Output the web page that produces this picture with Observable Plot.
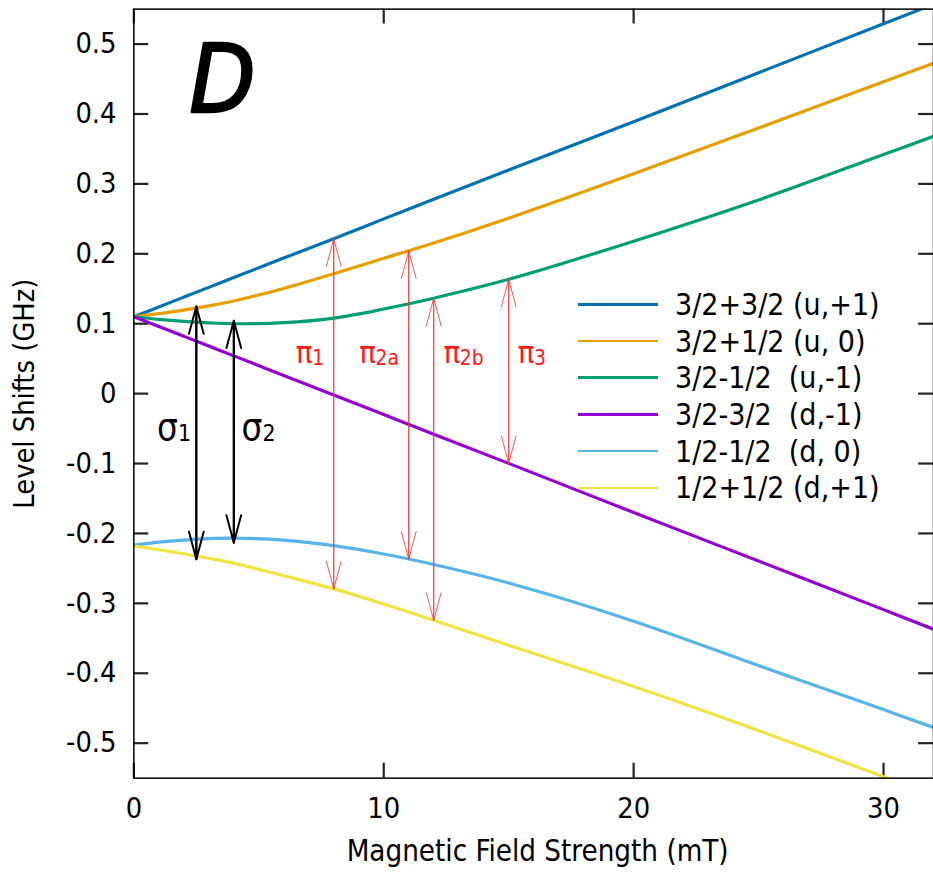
<!DOCTYPE html>
<html>
<head>
<meta charset="utf-8">
<script src="https://cdn.jsdelivr.net/npm/d3@7"></script>
<script src="https://cdn.jsdelivr.net/npm/@observablehq/plot@0.6"></script>
<style>
  html, body { margin: 0; padding: 0; overflow: hidden; background: white; }
  #wrap { position: relative; width: 933px; height: 878px; overflow: hidden; }
  #legend { position: absolute; left: 578px; top: 286px;
    font-family: "DejaVu Sans Condensed", "DejaVu Sans", sans-serif; font-size: 30px; color: black; }
  .row { display: flex; align-items: center; height: 36.7px; white-space: pre; }
  .sw { width: 80px; height: 2.5px; margin-right: 17px; }
</style>
</head>
<body>
<div id="wrap"><div id="legend"></div></div>
<script>
// ---- data ----
const xs = [0, 1, 2, 3, 4, 6, 8, 10, 12, 15, 20, 25, 30, 32];
const seriesNames = ["3/2+3/2 (u,+1)", "3/2+1/2 (u, 0)", "3/2-1/2  (u,-1)", "3/2-3/2  (d,-1)", "1/2-1/2  (d, 0)", "1/2+1/2 (d,+1)"];
const seriesColors = ["#0072B2", "#E69F00", "#009E73", "#9400D3", "#56B4E9", "#F0E442"];
const sUp1   = [0.110, 0.124, 0.138, 0.152, 0.166, 0.194, 0.2215, 0.250, 0.278, 0.320, 0.389, 0.459, 0.529, 0.557];
const sUp0   = [0.110, 0.1145, 0.1195, 0.1255, 0.1325, 0.1505, 0.1715, 0.1935, 0.2155, 0.251, 0.3145, 0.380, 0.446, 0.4725];
const sUpM1  = [0.110, 0.1062, 0.1033, 0.1012, 0.1000, 0.1015, 0.108, 0.121, 0.1365, 0.1635, 0.218, 0.277, 0.342, 0.368];
const sDnM1  = [0.110, 0.096, 0.082, 0.068, 0.054, 0.026, -0.002, -0.030, -0.058, -0.0998, -0.170, -0.2395, -0.309, -0.337];
const sDn0   = [-0.217, -0.2125, -0.2095, -0.2075, -0.2068, -0.2095, -0.2175, -0.2295, -0.2445, -0.271, -0.3255, -0.389, -0.452, -0.4775];
const sDnP1  = [-0.218, -0.2233, -0.229, -0.2355, -0.2425, -0.2605, -0.2793, -0.301, -0.3243, -0.360, -0.419, -0.482, -0.548, -0.574];
const seriesValues = [sUp1, sUp0, sUpM1, sDnM1, sDn0, sDnP1];

const xTicks = [0, 10, 20, 30];
const xTickLabels = ["0", "10", "20", "30"];
const yTicks = [-0.5, -0.4, -0.3, -0.2, -0.1, 0, 0.1, 0.2, 0.3, 0.4, 0.5];
const yTickLabels = ["-0.5", "-0.4", "-0.3", "-0.2", "-0.1", "0", "0.1", "0.2", "0.3", "0.4", "0.5"];
const xDomain = [0, 32];
const yDomain = [-0.55, 0.55];

// black sigma transitions
const sigmaX = [2.5, 4];
const sigmaTop = [0.1248, 0.1044];
const sigmaBot = [-0.2368, -0.2132];
const sigmaSub = ["1", "2"];
const sigmaLabelX = [0.93, 4.31];
const sigmaLabelY = [-0.0662, -0.0662];

// red pi transitions
const piX = [8, 11, 12, 15];
const piTop = [0.2215, 0.2041, 0.1365, 0.1635];
const piBot = [-0.2793, -0.2368, -0.3243, -0.0998];
const piSub = ["1", "2a", "2b", "3"];
const piLabelX = [6.48, 9.02, 12.39, 15.36];
const piLabelY = [0.0444, 0.0444, 0.0444, 0.0444];

const panelLabel = "D";
const xTitle = "Magnetic Field Strength (mT)";
const yTitle = "Level Shifts (GHz)";

// ---- build tables ----
const lineRows = [];
seriesNames.forEach((name, k) => xs.forEach((x, i) => lineRows.push({x, y: seriesValues[k][i], s: name})));
const sigmaRows = sigmaX.map((x, i) => ({x, top: sigmaTop[i], bot: sigmaBot[i]}));
const piRows = piX.map((x, i) => ({x, top: piTop[i], bot: piBot[i]}));
const sigmaLab = sigmaSub.map((s, i) => ({x: sigmaLabelX[i], y: sigmaLabelY[i], s}));
const piLab = piSub.map((s, i) => ({x: piLabelX[i], y: piLabelY[i], s}));

const FONT = '"DejaVu Sans Condensed", "DejaVu Sans", sans-serif';
const W = 941, H = 878, ML = 134.5, MR = 0, MT = 8.7, MB = 93.7;
const FW = W - ML - MR, FH = H - MT - MB, TL = 15;

const chart = Plot.plot({
  width: W,
  height: H,
  marginLeft: ML,
  marginRight: MR,
  marginTop: MT,
  marginBottom: MB,
  style: {fontFamily: FONT, fontSize: "29px", color: "black", background: "white"},
  x: {domain: xDomain},
  y: {domain: yDomain},
  color: {domain: seriesNames, range: seriesColors},
  marks: [
    // tick labels
    Plot.axisY({anchor: "left", ticks: yTicks, tickSize: 0, tickPadding: 17.5, tickFormat: d => yTickLabels[yTicks.indexOf(d)], label: null, fontSize: 29}),
    Plot.axisX({anchor: "bottom", ticks: xTicks, tickSize: 0, tickPadding: 20, tickFormat: d => xTickLabels[xTicks.indexOf(d)], label: null, fontSize: 29}),
    // inward ticks on all four sides
    Plot.tickY(yTicks, {y: d => d, insetRight: FW - TL, stroke: "#222222", strokeWidth: 2.2}),
    Plot.tickY(yTicks, {y: d => d, insetLeft: FW - TL, stroke: "#222222", strokeWidth: 2.2}),
    Plot.tickX(xTicks, {x: d => d, insetTop: FH - TL, stroke: "#222222", strokeWidth: 2.2}),
    Plot.tickX(xTicks, {x: d => d, insetBottom: FH - TL, stroke: "#222222", strokeWidth: 2.2}),
    // curves
    Plot.line(lineRows, {x: "x", y: "y", z: "s", stroke: "s", strokeWidth: 3.2, curve: "catmull-rom", clip: true}),
    // sigma arrows (double-headed)
    Plot.arrow(sigmaRows, {x1: "x", x2: "x", y1: "bot", y2: "top", stroke: "black", strokeWidth: 2, headLength: 21.5, headAngle: 30}),
    Plot.arrow(sigmaRows, {x1: "x", x2: "x", y1: "top", y2: "bot", stroke: "black", strokeWidth: 2, headLength: 21.5, headAngle: 30}),
    // pi arrows
    Plot.arrow(piRows, {x1: "x", x2: "x", y1: "bot", y2: "top", stroke: "#ee3a3a", strokeOpacity: 0.85, strokeWidth: 1, headLength: 43, headAngle: 30}),
    Plot.arrow(piRows, {x1: "x", x2: "x", y1: "top", y2: "bot", stroke: "#ee3a3a", strokeOpacity: 0.85, strokeWidth: 1, headLength: 43, headAngle: 30}),
    // labels
    Plot.text(sigmaLab, {x: "x", y: "y", text: () => "σ", textAnchor: "start", lineAnchor: "bottom", fontSize: 37, fill: "black"}),
    Plot.text(sigmaLab, {x: "x", y: "y", text: "s", textAnchor: "start", lineAnchor: "bottom", fontSize: 23, dx: 21, dy: 1, fill: "black"}),
    Plot.text(piLab, {x: "x", y: "y", text: () => "π", textAnchor: "start", lineAnchor: "bottom", fontSize: 31, fill: "#ff1a1a"}),
    Plot.text(piLab, {x: "x", y: "y", text: "s", textAnchor: "start", lineAnchor: "bottom", fontSize: 21, dx: 16.5, dy: 2, fill: "#ff1a1a"}),
    Plot.text([panelLabel], {frameAnchor: "top-left", text: d => d, textAnchor: "start", lineAnchor: "bottom", dx: 56, dy: 104, fontSize: 96, fontStyle: "italic", fill: "black", stroke: "black", strokeWidth: 2.5}),
    // axis titles
    Plot.text([yTitle], {frameAnchor: "left", text: d => d, rotate: -90, textAnchor: "middle", lineAnchor: "middle", dx: -109.5, fontSize: 29}),
    Plot.text([xTitle], {frameAnchor: "bottom", text: d => d, textAnchor: "middle", lineAnchor: "middle", dx: 4, dy: 73.7, fontSize: 29.5}),
    Plot.frame({stroke: "black", strokeWidth: 1.5})
  ]
});
document.getElementById("wrap").prepend(chart);

// legend inside the plot area
const legend = document.getElementById("legend");
seriesNames.forEach((name, k) => {
  const row = document.createElement("div");
  row.className = "row";
  const sw = document.createElement("div");
  sw.className = "sw";
  sw.style.background = seriesColors[k];
  const t = document.createElement("span");
  t.textContent = name;
  row.appendChild(sw);
  row.appendChild(t);
  legend.appendChild(row);
});
</script>
</body>
</html>
